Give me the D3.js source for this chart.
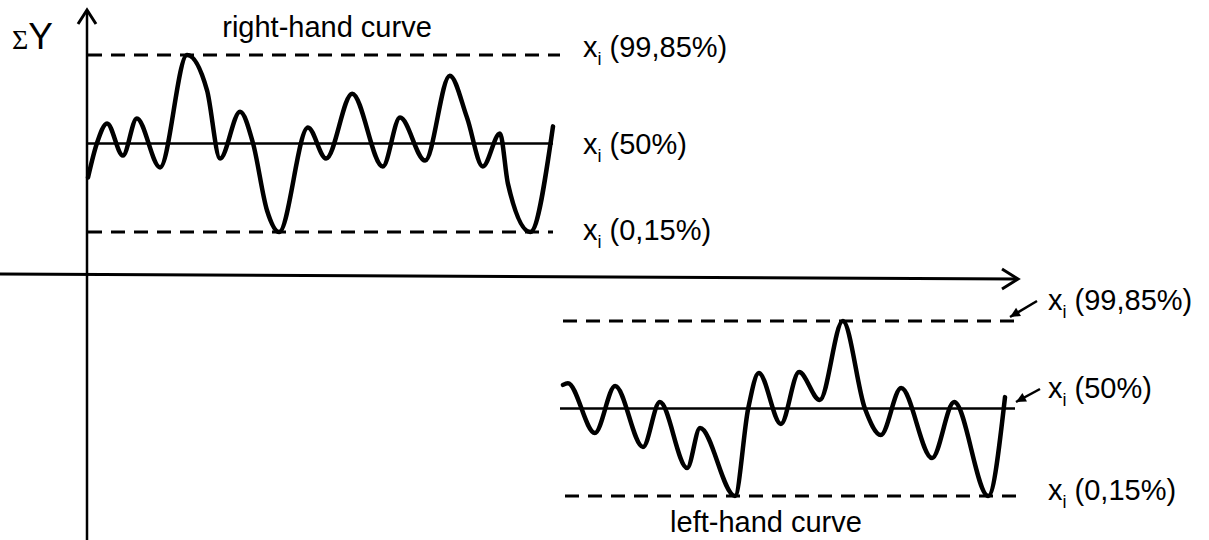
<!DOCTYPE html>
<html>
<head>
<meta charset="utf-8">
<script src="https://cdn.jsdelivr.net/npm/d3@7"></script>
<style>
  html, body { margin: 0; padding: 0; background: #fff; }
  svg { display: block; }
  text { font-family: Arial, "Liberation Sans", sans-serif; fill: #000; }
</style>
</head>
<body>
<svg id="chart" width="1209" height="540"></svg>
<script>
// ---- Data (sigma units: +3 = 99,85 %, 0 = 50 %, -3 = 0,15 %) ----
const levels = [3, 0, -3];
const levelLabels = ["(99,85%)", "(50%)", "(0,15%)"];
const levelDashed = [true, false, true];

// right-hand curve (position 0..100 along the run, value in sigma units)
const rightX = [0, 1.9, 4.1, 7.5, 10.5, 15.5, 21.3, 25.6, 28.4, 32.7, 35.5, 38.5, 41.1, 47.3, 51.2, 56.8, 63.4, 67.1, 72.5, 77.8, 81.5, 84.9, 88.6, 90.3, 95.1, 100];
const rightY = [-1.15, 0, 0.68, -0.41, 0.85, -0.81, 3.0, 1.8, -0.51, 1.08, 0, -2.27, -3.0, 0.54, -0.51, 1.69, -0.78, 0.88, -0.58, 2.3, 0.88, -0.78, 0.34, -1.36, -3.0, 0.58];

// left-hand curve
const leftX = [0, 1.1, 7.2, 11.8, 18.1, 21.9, 28.1, 31.0, 38.9, 41.9, 44.3, 49.3, 53.4, 58.1, 63.3, 68.3, 71.9, 76.5, 83.5, 88.5, 96.2, 100];
const leftY = [0.81, 0.87, -0.84, 0.77, -1.32, 0.22, -2.04, -0.67, -3.0, 0, 1.22, -0.53, 1.25, 0.29, 3.0, 0, -0.91, 0.70, -1.70, 0.22, -3.0, 0.39];

const titleRight = "right-hand curve";
const titleLeft = "left-hand curve";

// ---- Layout ----
const svg = d3.select("#chart");

const panels = [
  { xs: rightX, ys: rightY, x0: 88, x1: 553, yTop: 55, yBot: 232,
    lineExt: [[88, 560], [88, 553], [88, 553]],
    labelX: 583, labelDy: [2, 10, 8], title: titleRight, titleX: 327, titleY: 37, arrows: false },
  { xs: leftX, ys: leftY, x0: 563, x1: 1005, yTop: 321, yBot: 496,
    lineExt: [[563, 1015], [560, 1015], [565, 1018]],
    labelX: 1048, labelDy: [-11, -11, 4], title: titleLeft, titleX: 766, titleY: 532, arrows: true }
];

// axes (arrows)
svg.append("line").attr("x1", 87).attr("y1", 11).attr("x2", 87).attr("y2", 540)
  .attr("stroke", "#000").attr("stroke-width", 2.5);
svg.append("path").attr("d", "M78,24 L87,10 L96,24")
  .attr("fill", "none").attr("stroke", "#000").attr("stroke-width", 3);
svg.append("line").attr("x1", 0).attr("y1", 274).attr("x2", 1017).attr("y2", 279)
  .attr("stroke", "#000").attr("stroke-width", 3);
svg.append("path").attr("d", "M1002,269 L1018,279 L1002,289")
  .attr("fill", "none").attr("stroke", "#000").attr("stroke-width", 3);

// Sigma Y label
const sy = svg.append("text").attr("x", 12).attr("y", 49);
sy.append("tspan").text("Σ").attr("font-family", "'Liberation Serif', 'DejaVu Serif', serif").attr("font-size", 28);
sy.append("tspan").text("Y").attr("font-size", 37);

panels.forEach(p => {
  const x = d3.scaleLinear().domain([0, 100]).range([p.x0, p.x1]);
  const y = d3.scaleLinear().domain([-3, 3]).range([p.yBot, p.yTop]);

  // level lines
  levels.forEach((lv, i) => {
    svg.append("line")
      .attr("x1", p.lineExt[i][0]).attr("x2", p.lineExt[i][1])
      .attr("y1", y(lv)).attr("y2", y(lv))
      .attr("stroke", "#000")
      .attr("stroke-width", levelDashed[i] ? 3 : 2.5)
      .attr("stroke-dasharray", levelDashed[i] ? "14,9" : null);
  });

  // curve
  const pts = p.xs.map((v, i) => [v, p.ys[i]]);
  const line = d3.line().x(d => x(d[0])).y(d => y(d[1])).curve(d3.curveMonotoneX);
  svg.append("path").datum(pts).attr("d", line)
    .attr("fill", "none").attr("stroke", "#000").attr("stroke-width", 4.5)
    .attr("stroke-linejoin", "round").attr("stroke-linecap", "round");

  // labels
  levels.forEach((lv, i) => {
    const t = svg.append("text").attr("x", p.labelX).attr("y", y(lv) + p.labelDy[i]).attr("font-size", 29);
    t.append("tspan").text("x");
    t.append("tspan").text("i").attr("font-size", 18).attr("dy", 8);
    t.append("tspan").text(" " + levelLabels[i]).attr("dy", -8);
  });

  // title
  svg.append("text").attr("x", p.titleX).attr("y", p.titleY)
    .attr("text-anchor", "middle").attr("font-size", 29).text(p.title);

  // pointer arrows for the left-hand curve labels
  if (p.arrows) {
    [[3, 1037, 301, 1010, 317], [0, 1040, 389, 1016, 402]].forEach(a => {
      svg.append("line").attr("x1", a[1]).attr("y1", a[2]).attr("x2", a[3]).attr("y2", a[4])
        .attr("stroke", "#000").attr("stroke-width", 2.5);
      const ang = Math.atan2(a[4] - a[2], a[3] - a[1]);
      const L = 11, w = 0.45;
      const p1 = [a[3] - L * Math.cos(ang - w), a[4] - L * Math.sin(ang - w)];
      const p2 = [a[3] - L * Math.cos(ang + w), a[4] - L * Math.sin(ang + w)];
      svg.append("path").attr("d", `M${p1}L${a[3]},${a[4]}L${p2}Z`).attr("fill", "#000");
    });
  }
});
</script>
</body>
</html>
